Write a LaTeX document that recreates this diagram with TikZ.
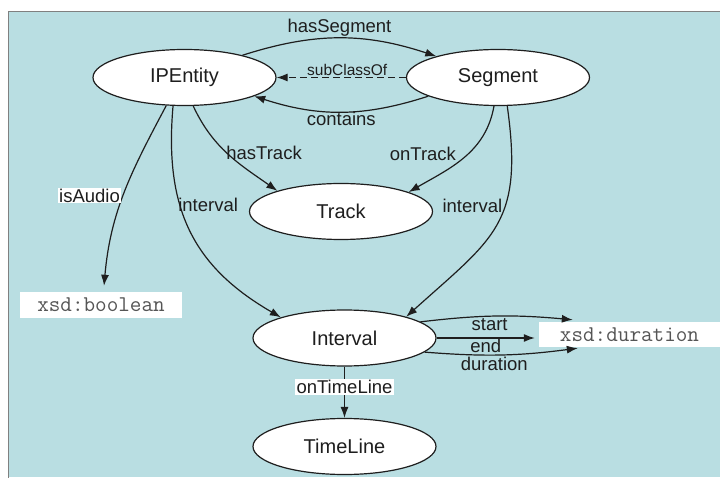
\documentclass[tikz,border=0pt]{standalone}
\usepackage{fontspec}
\setmainfont{Liberation Sans}
\usetikzlibrary{shapes.geometric,arrows.meta}
\definecolor{bg}{HTML}{B9DEE2}
\definecolor{ink}{HTML}{1E1E1E}
\definecolor{mono}{HTML}{555555}
\begin{document}
\begin{tikzpicture}[x=1pt,y=1pt,
  ent/.style={ellipse, draw=ink, line width=1.2pt, fill=white, inner sep=0pt,
    minimum width=183pt, minimum height=56pt, font=\fontsize{20}{22}\selectfont, text=ink},
  lit/.style={rectangle, fill=white, inner sep=0pt, font=\ttfamily\fontsize{22.5}{24}\selectfont, text=mono},
  rel/.style={draw=ink, line width=1.2pt, -{Latex[length=11pt,width=8pt]}},
  lbl/.style={font=\fontsize{18.5}{20}\selectfont, text=ink, inner sep=1.5pt},
]
\useasboundingbox (0,0) rectangle (720,477);
\fill[bg] (8,0) rectangle (720,465);
\draw[gray, line width=1pt] (8,-5) -- (8,465) -- (725,465);

\node[ent] (ip) at (184.5,399.5) {IPEntity};
\node[ent] (seg) at (498,399.5) {Segment};
\node[ent] (track) at (341,265.5) {Track};
\node[ent] (int) at (344.5,139) {Interval};
\node[ent] (tl) at (344.5,30.5) {TimeLine};
\node[lit, minimum width=162pt, minimum height=26pt] (bool) at (101,172) {xsd:boolean};
\node[lit, minimum width=181pt, minimum height=25pt] (dur) at (629.5,142.5) {xsd:duration};

\draw[rel] (ip.21) to[bend left=18] node[lbl, above] {hasSegment} (seg.161);
\draw[rel, dash pattern=on 7pt off 4pt] (seg.west) -- node[lbl, above, inner sep=1pt, font=\fontsize{15.5}{17}\selectfont, xshift=6pt] {subClassOf} (ip.east);
\draw[rel] (seg.195) to[bend left=18] node[lbl, below, yshift=2pt] {contains} (ip.-15);
\draw[rel] (ip.-73) to[out=-65,in=145] node[lbl, right, pos=0.45, yshift=-2pt] {hasTrack} (track.162);
\draw[rel] (seg.-98) to[out=-100,in=30] node[lbl, left, pos=0.45, xshift=-10pt] {onTrack} (track.16);
\draw[rel] (ip.-123) to[out=-118,in=85] node[lbl, left, fill=white, inner sep=1pt, pos=0.5, xshift=-3pt, yshift=-3pt] {isAudio} ([xshift=3pt,yshift=6pt]bool.north);
\draw[rel] (ip.-112) to[out=-95,in=150,looseness=1.1] node[lbl, right, pos=0.38, xshift=-4pt] {interval} (int.162);
\draw[rel] (seg.-72) to[out=-82,in=42,looseness=1.3] node[lbl, left, pos=0.4, yshift=2pt] {interval} (int.19);
\draw[rel] (int.12) to[bend left=6] node[lbl, below, pos=0.45] {start} ([xshift=34pt,yshift=2pt]dur.north west);
\draw[rel] (int.east) -- node[lbl, below, inner sep=0.5pt] {end} ([xshift=-4pt]int.east -| dur.west);
\draw[rel] (int.-10) to[bend right=6] node[lbl, below, pos=0.45] {duration} ([xshift=39pt,yshift=-1pt]dur.south west);
\draw[rel] (int.south) -- node[lbl, fill=white, inner sep=1.5pt, pos=0.4] {onTimeLine} (tl.north);
\end{tikzpicture}
\end{document}
